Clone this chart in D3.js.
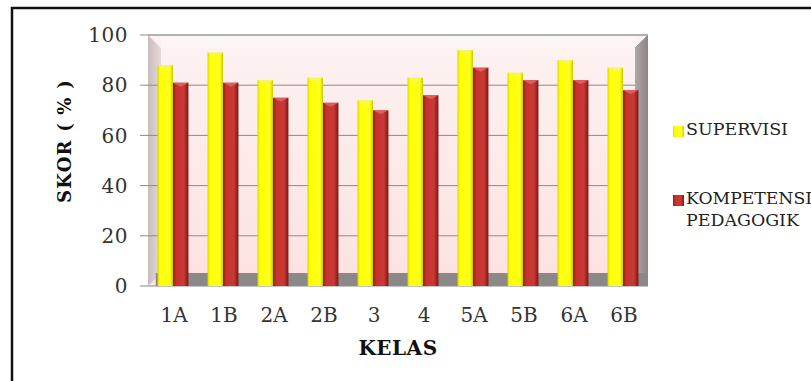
<!DOCTYPE html>
<html><head><meta charset="utf-8">
<script src="https://cdn.jsdelivr.net/npm/d3@7"></script>
<style>html,body{margin:0;padding:0;background:#fff;}svg{display:block;}</style>
</head><body>
<svg id="c" width="811" height="381"></svg>
<script>
const categories = ["1A","1B","2A","2B","3","4","5A","5B","6A","6B"];
const supervisi = [88,93,82,83,74,83,94,85,90,87];
const kompetensi = [81,81,75,73,70,76,87,82,82,78];
const yTicks = [0,20,40,60,80,100];
const seriesNames = ["SUPERVISI","KOMPETENSI PEDAGOGIK"];

(function(){
const svg = d3.select("#c");
const W = 811, H = 381;
const pLeft = 148, pRight = 648, pBottom = 286, pTop = 35, depth = 13;

const defs = svg.append("defs");
function grad(id, stops, horiz=true){
  const g = defs.append("linearGradient").attr("id", id)
    .attr("x1","0").attr("y1","0").attr("x2", horiz?"1":"0").attr("y2", horiz?"0":"1");
  stops.forEach(s=>g.append("stop").attr("offset",s[0]).attr("stop-color",s[1]));
}
grad("gy", [[0,"#d6d600"],[0.15,"#ffff00"],[0.8,"#ffff20"],[1,"#c9c900"]]);
grad("gr", [[0,"#8e1a18"],[0.2,"#c8322e"],[0.7,"#c93a35"],[1,"#7e1614"]]);
grad("gwall", [[0,"#fdf2f2"],[1,"#fce2e0"]], false);
grad("gside", [[0,"#b0a8a8"],[1,"#8d8585"]]);
grad("gleft", [[0,"#c9bcbc"],[1,"#e6dada"]]);

// border frame
svg.append("rect").attr("x",12).attr("y",8).attr("width",W).attr("height",H)
  .attr("fill","#fff").attr("stroke","#111").attr("stroke-width",2.5);

const x = d3.scaleBand().domain(categories).range([pLeft, pRight]).padding(0);
const x1 = d3.scaleBand().domain(["s","k"]).range([0, x.bandwidth()]).paddingInner(0).paddingOuter(0.62);
const y = d3.scaleLinear().domain([0,100]).range([pBottom, pTop]);

// back wall
svg.append("rect").attr("x", pLeft).attr("y", y(100)).attr("width", pRight-pLeft).attr("height", pBottom-y(100))
  .attr("fill","url(#gwall)");
svg.append("rect").attr("x", pLeft+depth).attr("y", y(100)).attr("width", pRight-pLeft-2*depth).attr("height", depth)
  .attr("fill","#fdf6f6");
// left side wall
svg.append("polygon").attr("points", [[pLeft,y(100)],[pLeft+depth,y(100)+depth],[pLeft+depth,pBottom-depth],[pLeft,pBottom]].join(" "))
  .attr("fill","url(#gleft)");
// right side wall
svg.append("polygon").attr("points", [[pRight,y(100)],[pRight-depth,y(100)+depth],[pRight-depth,pBottom-depth],[pRight,pBottom-depth]].join(" "))
  .attr("fill","url(#gside)");
// top edge
svg.append("line").attr("x1",pLeft).attr("x2",pRight).attr("y1",y(100)).attr("y2",y(100)).attr("stroke","#9a9a9a").attr("stroke-width",1.5);
svg.append("line").attr("x1",pRight).attr("x2",pRight-depth).attr("y1",y(100)).attr("y2",y(100)+depth).attr("stroke","#9a9a9a").attr("stroke-width",1);

// gridlines
svg.append("g").selectAll("line").data(yTicks.filter(d=>d>0 && d<100)).join("line")
  .attr("x1", pLeft-8).attr("x2", pRight-depth).attr("y1", d=>y(d)).attr("y2", d=>y(d))
  .attr("stroke","#8a8a8a").attr("stroke-width",1);
svg.append("line").attr("x1",pLeft-8).attr("x2",pLeft).attr("y1",y(100)).attr("y2",y(100)).attr("stroke","#8a8a8a");

// floor
svg.append("rect").attr("x", pLeft+depth*0.6).attr("y", pBottom-depth).attr("width", pRight-pLeft-depth*0.6).attr("height", depth)
  .attr("fill","#8c8888");
svg.append("line").attr("x1",pLeft-8).attr("x2",pRight).attr("y1",pBottom).attr("y2",pBottom).attr("stroke","#8a8a8a").attr("stroke-width",1.2);

// bars
const g = svg.append("g");
categories.forEach((c,i)=>{
  [["s",supervisi[i],"url(#gy)","#f2f27a"],["k",kompetensi[i],"url(#gr)","#e06a66"]].forEach(([k,v,f,cap])=>{
    const bx = x(c)+x1(k), bw = x1.bandwidth();
    g.append("rect").attr("x",bx).attr("y",y(v)).attr("width",bw).attr("height",pBottom-y(v)).attr("fill",f);
    g.append("polygon").attr("points",[[bx,y(v)],[bx+bw,y(v)],[bx+bw*0.5,y(v)+4]].join(" ")).attr("fill",cap).attr("opacity",0.8);
  });
});

const serif = "'DejaVu Serif', serif";
// y axis labels
svg.append("g").selectAll("text").data(yTicks).join("text")
  .attr("x", 128).attr("y", d=>y(d)).attr("dy","0.36em").attr("text-anchor","end")
  .attr("font-family",serif).attr("font-size",20).attr("letter-spacing",0.5).attr("fill","#333")
  .text(d=>d);
// x axis labels
svg.append("g").selectAll("text").data(categories).join("text")
  .attr("x", d=>x(d)+x.bandwidth()/2+1).attr("y", 322).attr("text-anchor","middle")
  .attr("font-family",serif).attr("font-size",20).attr("letter-spacing",0).attr("fill","#333")
  .text(d=>d);

// axis titles
svg.append("text").attr("transform","translate(71,141) rotate(-90)").attr("text-anchor","middle")
  .attr("font-family",serif).attr("font-weight","bold").attr("font-size",18).attr("letter-spacing",1.2).attr("fill","#111")
  .text("SKOR ( % )");
svg.append("text").attr("x",398).attr("y",355).attr("text-anchor","middle")
  .attr("font-family",serif).attr("font-weight","bold").attr("font-size",20).attr("letter-spacing",0.5).attr("fill","#111")
  .text("KELAS");

// legend
const leg = svg.append("g");
leg.append("rect").attr("x",673).attr("y",126).attr("width",11).attr("height",11).attr("fill","url(#gy)");
leg.append("text").attr("x",686).attr("y",135).attr("font-family",serif).attr("font-size",16).attr("fill","#222")
  .attr("textLength",102).attr("lengthAdjust","spacingAndGlyphs").text(seriesNames[0]);
leg.append("rect").attr("x",673).attr("y",195).attr("width",11).attr("height",11).attr("fill","url(#gr)");
const parts = seriesNames[1].split(" ");
leg.append("text").attr("x",686).attr("y",204).attr("font-family",serif).attr("font-size",16).attr("fill","#222")
  .attr("textLength",126).attr("lengthAdjust","spacingAndGlyphs").text(parts[0]);
leg.append("text").attr("x",686).attr("y",226).attr("font-family",serif).attr("font-size",16).attr("fill","#222")
  .attr("textLength",113).attr("lengthAdjust","spacingAndGlyphs").text(parts[1]);
})();
</script>
</body></html>
